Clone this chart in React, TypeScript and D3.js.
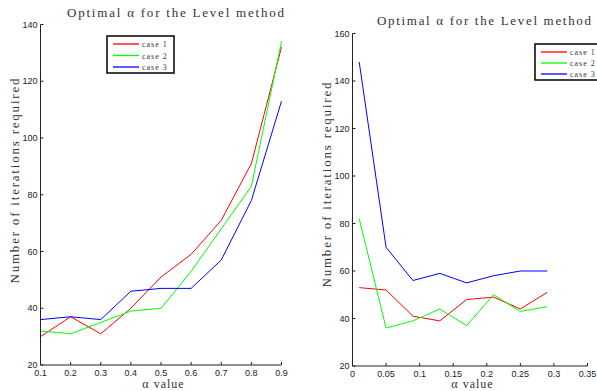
import React from "react";
import * as d3 from "d3";

const leftAlpha = [0.1, 0.2, 0.3, 0.4, 0.5, 0.6, 0.7, 0.8, 0.9];
const leftCase1 = [30, 37, 31, 40, 51, 59, 71, 91, 132];
const leftCase2 = [32, 31, 35, 39, 40, 53, 68, 83, 134];
const leftCase3 = [36, 37, 36, 46, 47, 47, 57, 78, 113];
const leftXTicks = [0.1, 0.2, 0.3, 0.4, 0.5, 0.6, 0.7, 0.8, 0.9];
const leftYTicks = [20, 40, 60, 80, 100, 120, 140];

const rightAlpha = [0.01, 0.05, 0.09, 0.13, 0.17, 0.21, 0.25, 0.29];
const rightCase1 = [53, 52, 41, 39, 48, 49, 44, 51];
const rightCase2 = [82, 36, 39, 44, 37, 50, 43, 45];
const rightCase3 = [148, 70, 56, 59, 55, 58, 60, 60];
const rightXTicks = [0, 0.05, 0.1, 0.15, 0.2, 0.25, 0.3, 0.35];
const rightYTicks = [20, 40, 60, 80, 100, 120, 140, 160];

const seriesNames = ["case 1", "case 2", "case 3"];
const seriesColors = ["#ff0000", "#00ff00", "#0000ff"];

const titleText = "Optimal \u03b1 for the Level method";
const yLabelText = "Number of iterations required";

type PanelProps = {
  xs: number[];
  series: number[][];
  xDomain: [number, number];
  yDomain: [number, number];
  xRange: [number, number];
  yRange: [number, number];
  xTicks: number[];
  yTicks: number[];
  title: { x: number; y: number; w: number };
  yLabel: { x: number; y: number; w: number };
  xLabel: { x: number; y: number };
  legend: { x: number; y: number; w: number; h: number; rowH: number; lineW: number; fs: number };
};

function Panel(p: PanelProps) {
  const x = d3.scaleLinear().domain(p.xDomain).range(p.xRange);
  const y = d3.scaleLinear().domain(p.yDomain).range(p.yRange);
  const line = d3
    .line<[number, number]>()
    .x((d) => x(d[0]))
    .y((d) => y(d[1]));
  const fmt = (v: number) => (v === 0 ? "0" : String(+v.toFixed(2)));
  const [x0, x1] = p.xRange;
  const [yb, yt] = p.yRange;
  const lg = p.legend;
  return (
    <g>
      <text
        x={p.title.x}
        y={p.title.y}
        fontFamily="'Liberation Serif', serif"
        fontSize={13}
        fill="#333"
        textLength={p.title.w}
        lengthAdjust="spacing"
      >
        {titleText}
      </text>
      <text
        transform={`translate(${p.yLabel.x},${p.yLabel.y}) rotate(-90)`}
        textAnchor="middle"
        fontFamily="'Liberation Serif', serif"
        fontSize={13}
        fill="#333"
        textLength={p.yLabel.w}
        lengthAdjust="spacing"
      >
        {yLabelText}
      </text>
      <text
        x={p.xLabel.x}
        y={p.xLabel.y}
        textAnchor="middle"
        fontFamily="'Liberation Serif', serif"
        fontSize={12}
        fill="#333"
        letterSpacing={1}
      >
        {"\u03b1 value"}
      </text>
      {p.series.map((s, i) => (
        <path
          key={i}
          d={line(p.xs.map((v, j) => [v, s[j]] as [number, number])) || ""}
          fill="none"
          stroke={seriesColors[i]}
          strokeWidth={1}
        />
      ))}
      <line x1={x0} x2={x1} y1={yb} y2={yb} stroke="#222" strokeWidth={1} />
      <line x1={x0} x2={x0} y1={yb} y2={yt} stroke="#222" strokeWidth={1} />
      {p.xTicks.map((t) => (
        <g key={"x" + t}>
          <line x1={x(t)} x2={x(t)} y1={yb} y2={yb - 3} stroke="#222" strokeWidth={1} />
          <text
            x={x(t)}
            y={yb + 10.5}
            textAnchor="middle"
            fontFamily="'Liberation Sans', Arial, sans-serif"
            fontSize={9}
            fill="#222"
          >
            {fmt(t)}
          </text>
        </g>
      ))}
      {p.yTicks.map((t) => (
        <g key={"y" + t}>
          <line x1={x0} x2={x0 + 3} y1={y(t)} y2={y(t)} stroke="#222" strokeWidth={1} />
          <text
            x={x0 - 3}
            y={y(t) + 3}
            textAnchor="end"
            fontFamily="'Liberation Sans', Arial, sans-serif"
            fontSize={9}
            fill="#222"
          >
            {t}
          </text>
        </g>
      ))}
      <rect x={lg.x} y={lg.y} width={lg.w} height={lg.h} fill="#fff" stroke="#000" strokeWidth={1.5} />
      {seriesNames.map((n, i) => {
        const ry = lg.y + 8 + i * lg.rowH;
        return (
          <g key={n}>
            <line
              x1={lg.x + 6}
              x2={lg.x + 6 + lg.lineW}
              y1={ry}
              y2={ry}
              stroke={seriesColors[i]}
              strokeWidth={1.3}
            />
            <text
              x={lg.x + 9 + lg.lineW}
              y={ry + 3}
              fontFamily="'Liberation Serif', serif"
              fontSize={lg.fs}
              fill="#333"
              letterSpacing={1}
            >
              {n}
            </text>
          </g>
        );
      })}
    </g>
  );
}

export default function App() {
  return (
    <svg
      width={597}
      height={391}
      style={{ position: "absolute", left: 0, top: 0, background: "#fff" }}
    >
      <rect width={597} height={391} fill="#fff" />
      <Panel
        xs={leftAlpha}
        series={[leftCase1, leftCase2, leftCase3]}
        xDomain={[0.1, 0.9]}
        yDomain={[20, 140]}
        xRange={[40.5, 281.5]}
        yRange={[365, 24.5]}
        xTicks={leftXTicks}
        yTicks={leftYTicks}
        title={{ x: 67, y: 17, w: 217 }}
        yLabel={{ x: 19, y: 181, w: 205 }}
        xLabel={{ x: 163.5, y: 388 }}
        legend={{ x: 107, y: 36, w: 67, h: 37, rowH: 11.5, lineW: 26, fs: 8 }}
      />
      <Panel
        xs={rightAlpha}
        series={[rightCase1, rightCase2, rightCase3]}
        xDomain={[0, 0.35]}
        yDomain={[20, 160]}
        xRange={[352.5, 587.5]}
        yRange={[366, 33.5]}
        xTicks={rightXTicks}
        yTicks={rightYTicks}
        title={{ x: 377, y: 25, w: 214 }}
        yLabel={{ x: 331, y: 185, w: 205 }}
        xLabel={{ x: 472.5, y: 388 }}
        legend={{ x: 535, y: 44, w: 70, h: 36, rowH: 11, lineW: 26, fs: 8 }}
      />
    </svg>
  );
}
